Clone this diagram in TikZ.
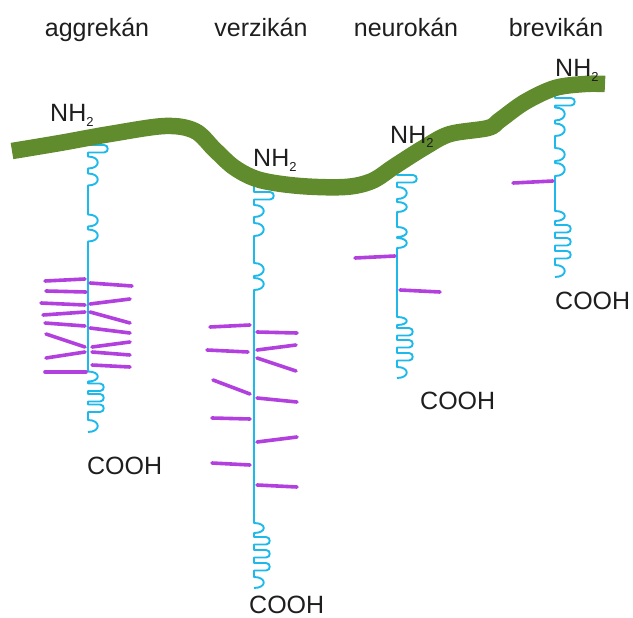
\documentclass[tikz,border=0pt]{standalone}
\usepackage{fontspec}
\setmainfont{Liberation Sans}
\definecolor{core}{RGB}{96,140,45}
\definecolor{chainc}{RGB}{30,185,235}
\definecolor{gagc}{RGB}{178,64,222}
\definecolor{inkc}{RGB}{30,30,30}
\newcommand{\amino}{NH\raisebox{-5pt}{\fontsize{13}{13}\selectfont 2}}
\tikzset{
  lbl/.style={font=\fontsize{25}{26}\selectfont, text=inkc, inner sep=0pt},
  protein/.style={draw=chainc, line width=1.9pt, line join=round},
  gag/.style={draw=gagc, line width=3.6pt, line cap=round},
  backbone/.style={draw=core, line width=16.5pt},
  % elongated hairpin fold to the right of the core protein
  hp/.style={insert path={-- ++(#1,0) .. controls +(5,0) and +(5,0) .. ++(0,7.5) -- ++(-#1,0)}},
  % small globular bump
  bp/.style={insert path={.. controls +(13,0) and +(13,0) .. ++(0,#1)}},
}
\begin{document}
\begin{tikzpicture}[x=1pt,y=-1pt]
\path[use as bounding box] (0,0) rectangle (633,618);

% attachment points of the core proteins on the hyaluronan strand
\coordinate (agg) at (88,140);
\coordinate (ver) at (254,182);
\coordinate (neu) at (397,168);
\coordinate (bre) at (555,90);

% core proteins
\draw[protein] (agg) -- ++(0,5) [hp=16] -- ++(0,4) [bp=12] -- ++(0,5) [bp=12]
  -- ++(0,29) [bp=12] -- ++(0,3) [bp=12] -- ++(0,130) [bp=10] -- ++(0,2) [hp=12]
  -- ++(0,3) [hp=12] -- ++(0,3) [hp=12] -- ++(0,8) [bp=12];
\draw[protein] (ver) -- ++(0,10) [hp=16] -- ++(0,5.5) [bp=12] -- ++(0,6) [bp=13]
  -- ++(0,27) [bp=13] -- ++(0,2) [bp=12] -- ++(0,233) [bp=10] -- ++(0,4) [hp=12]
  -- ++(0,5.5) [hp=12] -- ++(0,5.5) [hp=12] -- ++(0,6.5) [bp=11];
\draw[protein] (neu) -- ++(0,7) [hp=16] -- ++(0,4.5) [bp=12] -- ++(0,3) [bp=10]
  -- ++(0,15) [bp=10] -- ++(0,1) [bp=10] -- ++(0,69) [bp=8] -- ++(0,3) [hp=12]
  -- ++(0,4.5) [hp=12] -- ++(0,5.5) [hp=12] -- ++(0,6.5) [bp=11];
\draw[protein] (bre) -- ++(0,8) [hp=16] -- ++(0,2) [bp=13] -- ++(0,3) [bp=12.5]
  -- ++(0,12) [bp=13] -- ++(0,2) [bp=13] -- ++(0,35) [bp=10] -- ++(0,4) [hp=12]
  -- ++(0,5.5) [hp=12] -- ++(0,5.5) [hp=12] -- ++(0,6.5) [bp=12];

% glycosaminoglycan side chains: aggrecan
\draw[gag] (45,281) -- (85,279);  \draw[gag] (46,291) -- (86,292);
\draw[gag] (41,303) -- (85,305);  \draw[gag] (43,315) -- (85,312);
\draw[gag] (45,323) -- (85,326);  \draw[gag] (46,334) -- (85,347);
\draw[gag] (46,358) -- (85,352);  \draw[gag] (45,372) -- (86,372);
\draw[gag] (90,283) -- (132,286); \draw[gag] (90,304) -- (130,299);
\draw[gag] (90,312) -- (130,323); \draw[gag] (90,328) -- (130,333);
\draw[gag] (92,347) -- (130,342); \draw[gag] (92,352) -- (130,355);
\draw[gag] (92,365) -- (130,367);

% versican
\draw[gag] (210,327) -- (250,325); \draw[gag] (207,350) -- (248,352);
\draw[gag] (213,380) -- (250,394); \draw[gag] (212,418) -- (250,419);
\draw[gag] (212,463) -- (250,465);
\draw[gag] (257,332) -- (297,333); \draw[gag] (257,350) -- (296,345);
\draw[gag] (257,358) -- (296,371); \draw[gag] (257,398) -- (297,402);
\draw[gag] (257,442) -- (297,437); \draw[gag] (257,485) -- (297,487);

% neurocan and brevican
\draw[gag] (355,258) -- (395,256); \draw[gag] (400,290) -- (440,292);
\draw[gag] (513,183) -- (553,181);

% hyaluronan strand
\draw[backbone] plot[smooth, tension=0.55] coordinates {
  (12,151) (60,143) (110,134) (165,126) (195,131) (215,150) (235,168)
  (260,180) (300,186) (345,187) (372,181) (395,166) (425,147) (450,134)
  (488,128) (500,120) (525,102) (555,88) (585,84) (605,84)};

% titles
\node[lbl, anchor=base] (tagg) at (97,37) {aggrekán};
\node[lbl, anchor=base] (tver) at (261,37) {verzikán};
\node[lbl, anchor=base] (tneu) at (406,37) {neurokán};
\node[lbl, anchor=base] (tbre) at (556,37) {brevikán};

% N-terminal labels
\node[lbl, anchor=base west] (nagg) at (50,122) {\amino};
\node[lbl, anchor=base west] (nver) at (253,167) {\amino};
\node[lbl, anchor=base west] (nneu) at (390,143) {\amino};
\node[lbl, anchor=base west] (nbre) at (555,77) {\amino};

% C-terminal labels
\node[lbl, anchor=base west] (cagg) at (87,474) {COOH};
\node[lbl, anchor=base west] (cver) at (249,613) {COOH};
\node[lbl, anchor=base west] (cneu) at (420,409) {COOH};
\node[lbl, anchor=base west] (cbre) at (555,309) {COOH};
\end{tikzpicture}
\end{document}
